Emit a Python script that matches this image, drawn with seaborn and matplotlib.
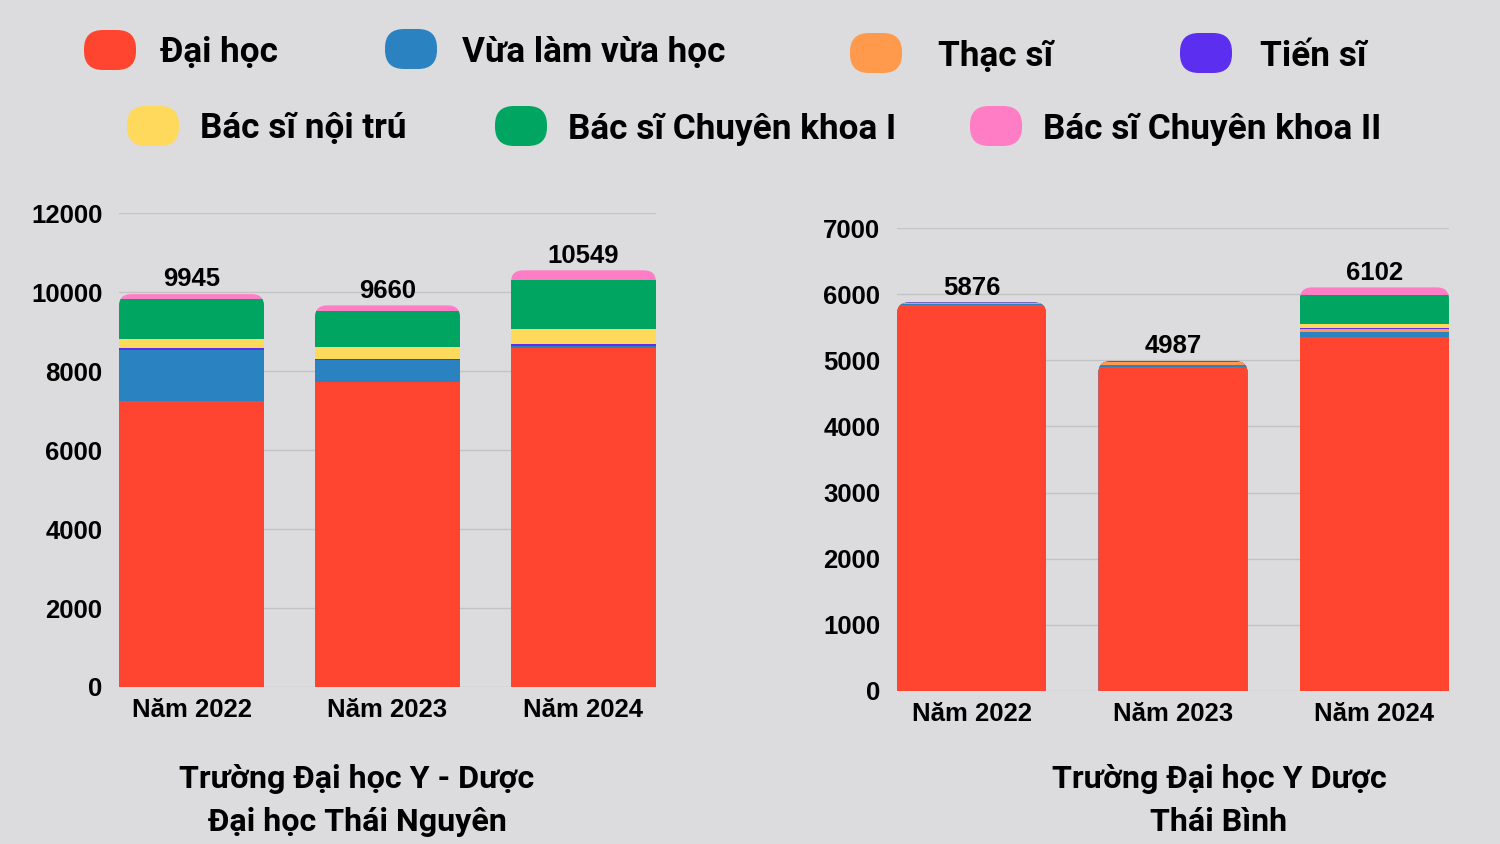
import numpy as np
import matplotlib
matplotlib.use("Agg")
import matplotlib.pyplot as plt
from matplotlib.patches import FancyBboxPatch
import seaborn as sns

# ---- data ----
years = ["Năm 2022", "Năm 2023", "Năm 2024"]
series_names = ["Đại học", "Vừa làm vừa học", "Thạc sĩ", "Tiến sĩ",
                "Bác sĩ nội trú", "Bác sĩ Chuyên khoa I", "Bác sĩ Chuyên khoa II"]
series_colors = ["#FF4530", "#2A82C0", "#FF9A4C", "#5B2EF0",
                 "#FFD95C", "#00A562", "#FF7DC5"]

# Trường Đại học Y - Dược, Đại học Thái Nguyên
tn_dai_hoc = [7240, 7730, 8590]
tn_vlvh = [1300, 540, 45]
tn_thac_si = [0, 0, 0]
tn_tien_si = [35, 35, 45]
tn_noi_tru = [235, 300, 395]
tn_ck1 = [1005, 915, 1230]
tn_ck2 = [130, 140, 244]

# Trường Đại học Y Dược Thái Bình
tb_dai_hoc = [5836, 4894, 5348]
tb_vlvh = [8, 38, 80]
tb_thac_si = [22, 45, 40]
tb_tien_si = [10, 10, 20]
tb_noi_tru = [0, 0, 56]
tb_ck1 = [0, 0, 437]
tb_ck2 = [0, 0, 121]

left_title = ["Trường Đại học Y - Dược", "Đại học Thái Nguyên"]
right_title = ["Trường Đại học Y Dược", "Thái Bình"]

BG = "#DCDBDD"
GRID = "#C3C2C5"
BAR_W = 0.74
TICK_FONT = ["Liberation Sans", "DejaVu Sans"]

sns.set_style("white")
plt.rcParams["font.family"] = ["Roboto", "DejaVu Sans"]
plt.rcParams["text.color"] = "black"
plt.rcParams["xtick.color"] = "black"
plt.rcParams["ytick.color"] = "black"

fig = plt.figure(figsize=(15, 8.44), dpi=100, facecolor=BG)


def stacked(ax, layers, yticks):
    """ Stack the layers by drawing cumulative totals, tallest first """
    cum = np.cumsum(np.array(layers), axis=0)
    for k in range(len(layers) - 1, -1, -1):
        sns.barplot(x=years, y=cum[k], color=series_colors[k], saturation=1,
                    width=BAR_W, errorbar=None, linewidth=0, ax=ax)
    totals = cum[-1]

    ax.set_xlim(-BAR_W / 2, len(years) - 1 + BAR_W / 2)
    ax.set_ylim(0, yticks[-1])
    ax.set_yticks(yticks)
    ax.set_facecolor(BG)
    ax.set_xlabel("")
    ax.set_ylabel("")
    for s in ax.spines.values():
        s.set_visible(False)
    ax.grid(axis="y", color=GRID, linewidth=1)
    ax.set_axisbelow(True)
    ax.tick_params(length=0, colors="black")
    ax.tick_params(axis="y", pad=12)
    ax.tick_params(axis="x", pad=8)
    for lab in ax.get_xticklabels() + ax.get_yticklabels():
        lab.set_fontfamily(TICK_FONT)
        lab.set_fontweight("bold")
        lab.set_fontsize(18.5)

    # rounded top corners: clip every segment to a rounded box of the total
    pos = ax.get_position()
    w_px = pos.width * fig.get_figwidth() * fig.dpi
    h_px = pos.height * fig.get_figheight() * fig.dpi
    xu = (ax.get_xlim()[1] - ax.get_xlim()[0]) / w_px
    yu = (ax.get_ylim()[1] - ax.get_ylim()[0]) / h_px
    r = 12
    rx = r * xu
    for i, tot in enumerate(totals):
        clip = FancyBboxPatch((i - BAR_W / 2, -tot), BAR_W, 2 * tot,
                              boxstyle=f"round,pad=0,rounding_size={rx}",
                              mutation_aspect=(r * yu) / rx,
                              transform=ax.transData,
                              facecolor="none", edgecolor="none")
        ax.add_patch(clip)
        for cont in ax.containers:
            cont.patches[i].set_clip_path(clip)
    ax.set_ylim(0, yticks[-1])

    ax.bar_label(ax.containers[0], labels=[str(int(t)) for t in totals],
                 padding=2, fontsize=18.5, fontweight="bold", family=TICK_FONT)


ax1 = fig.add_axes([119 / 1500, 1 - 687 / 844, (656 - 119) / 1500, (687 - 213) / 844])
stacked(ax1, [tn_dai_hoc, tn_vlvh, tn_thac_si, tn_tien_si, tn_noi_tru, tn_ck1, tn_ck2],
        list(range(0, 12001, 2000)))

ax2 = fig.add_axes([897 / 1500, 1 - 691 / 844, (1449 - 897) / 1500, (691 - 228) / 844])
stacked(ax2, [tb_dai_hoc, tb_vlvh, tb_thac_si, tb_tien_si, tb_noi_tru, tb_ck1, tb_ck2],
        list(range(0, 7001, 1000)))

# titles under each chart
for k, line in enumerate(left_title):
    fig.text(357 / 1500, 1 - (779 + 43 * k) / 844, line, ha="center", va="center",
             fontsize=23.2, fontweight="bold")
for k, line in enumerate(right_title):
    fig.text(1219 / 1500, 1 - (779 + 43 * k) / 844, line, ha="center", va="center",
             fontsize=23.2, fontweight="bold")

# legend drawn on an overlay in pixel coordinates
lax = fig.add_axes([0, 0, 1, 1])
lax.set_xlim(0, 1500)
lax.set_ylim(844, 0)
lax.axis("off")
leg_marker = [(110, 50), (411, 49), (876, 53), (1206, 53),
              (153, 126), (521, 126), (996, 126)]
leg_text_x = [160, 462, 938, 1260, 200, 568, 1043]
for name, col, (cx, cy), tx in zip(series_names, series_colors, leg_marker, leg_text_x):
    lax.add_patch(FancyBboxPatch((cx - 26, cy - 20), 52, 40,
                                 boxstyle="round,pad=0,rounding_size=19",
                                 facecolor=col, edgecolor="none"))
    lax.text(tx, cy + 3, name, ha="left", va="center",
             fontsize=25.3, fontweight="bold")

fig.savefig("out.png", dpi=100, facecolor=BG)
